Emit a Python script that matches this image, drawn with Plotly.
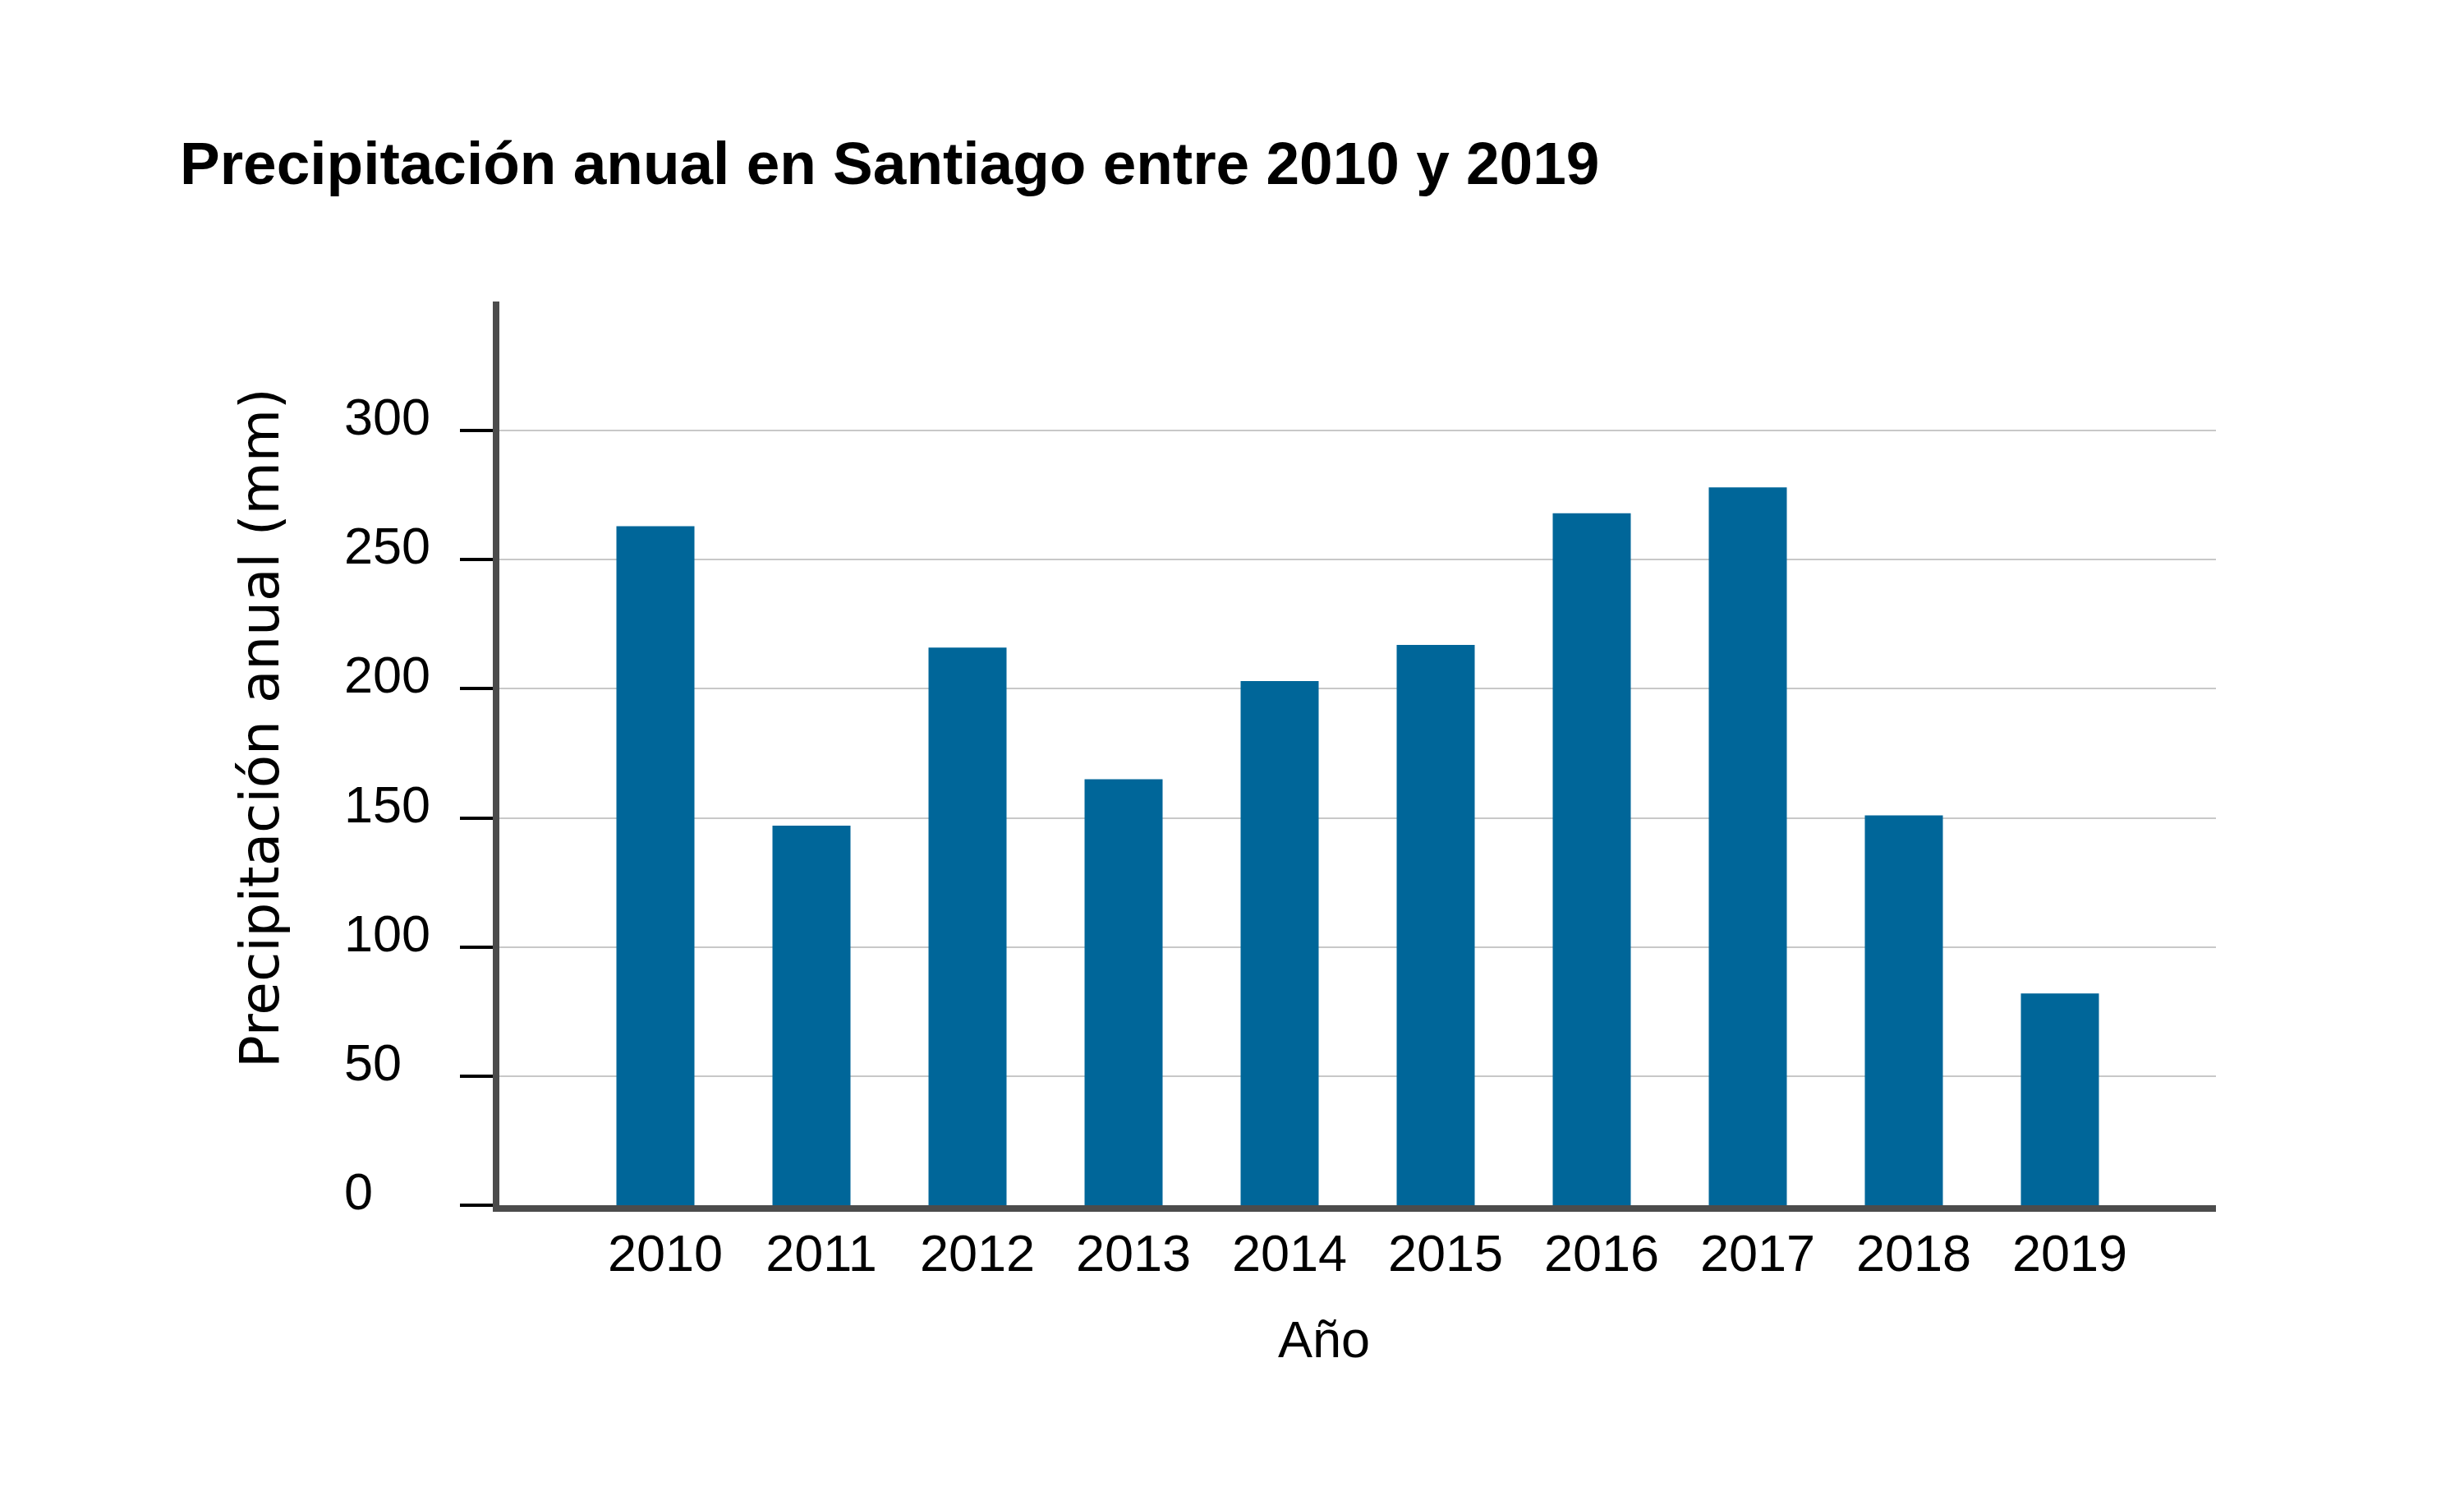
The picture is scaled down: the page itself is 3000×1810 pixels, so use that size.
import plotly.graph_objects as go

years = ["2010", "2011", "2012", "2013", "2014", "2015", "2016", "2017", "2018", "2019"]
precip_mm = [263, 147, 216, 165, 203, 217, 268, 278, 151, 82]
y_ticks = [0, 50, 100, 150, 200, 250, 300]

title_text = "Precipitación anual en Santiago entre 2010 y 2019"
x_title = "Año"
y_title = "Precipitación anual (mm)"

W, H = 3000, 1810
OX, OY = 4, 10  # page offset compensation
L, T = 604 - OX, 369 - OY
PW, PH = 2090, 1100
R, B = W - L - PW, H - T - PH

fig = go.Figure()
fig.add_trace(go.Bar(
    x=list(range(len(years))),
    y=precip_mm,
    width=0.5,
    marker=dict(color="#006699", line=dict(width=0)),
    hoverinfo="x+y",
))

label_font = dict(family="Liberation Sans, Arial, sans-serif", size=63, color="black")

annotations = []
for v in y_ticks:
    annotations.append(dict(
        x=(413 - OX - L) / PW, xref="paper", xanchor="left",
        y=v, yref="y", yanchor="middle", yshift=17,
        text=str(v), showarrow=False, font=label_font,
    ))
annotations.append(dict(
    x=(1608 - OX - L) / PW, xref="paper", xanchor="center",
    y=(T + PH - (1632 - OY)) / PH, yref="paper", yanchor="middle",
    text=x_title, showarrow=False, font=label_font,
))
annotations.append(dict(
    x=(312 - OX - L) / PW, xref="paper", xanchor="center",
    y=(T + PH - (888 - OY)) / PH, yref="paper", yanchor="middle",
    text=y_title, textangle=-90, showarrow=False,
    font=dict(family="DejaVu Sans, sans-serif", size=66, color="black"),
))

fig.update_layout(
    width=W, height=H,
    margin=dict(l=L, r=R, t=T, b=B, pad=0),
    paper_bgcolor="white", plot_bgcolor="white",
    showlegend=False,
    title=dict(
        text="<b>" + title_text + "</b>",
        x=(215 - OX) / W, xref="container", xanchor="left",
        y=1 - (200.5 - OY) / H, yref="container", yanchor="middle",
        font=dict(family="Liberation Sans, Arial, sans-serif", size=73, color="black"),
    ),
    xaxis=dict(
        range=[-1, 10],
        tickmode="array",
        tickvals=list(range(len(years))),
        ticktext=years,
        ticks="",
        showgrid=False,
        zeroline=False,
        showline=True, linecolor="rgba(0,0,0,0.7)", linewidth=8,
        tickfont=label_font,
        ticklabelshift=12,
        ticklabelstandoff=-4,
        layer="above traces",
    ),
    yaxis=dict(
        range=[0, 350],
        tickmode="array",
        tickvals=y_ticks,
        showticklabels=False,
        ticks="outside", ticklen=40, tickwidth=4, tickcolor="black",
        showgrid=True, gridcolor="#c8c8c8", gridwidth=2,
        zeroline=False,
        showline=True, linecolor="rgba(0,0,0,0.7)", linewidth=8,
        layer="above traces",
    ),
    annotations=annotations,
)

fig.write_html("out.html")
